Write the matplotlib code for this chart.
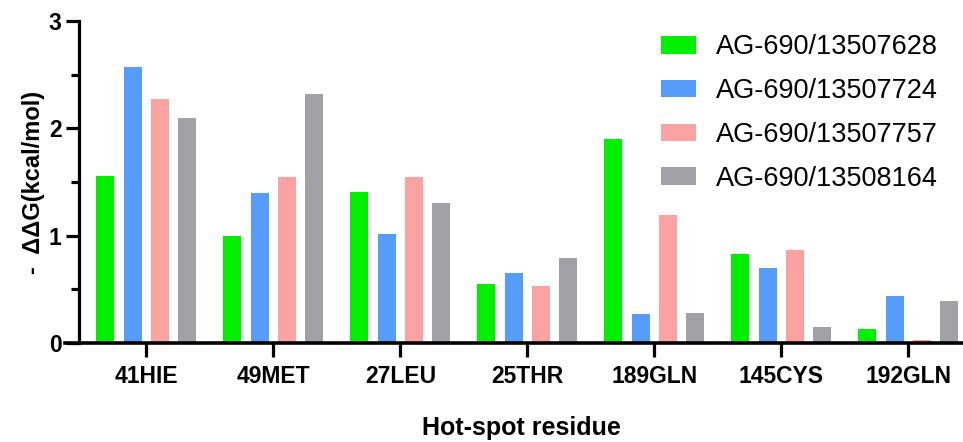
import numpy as np
import matplotlib
matplotlib.use("Agg")
import matplotlib.pyplot as plt

residues = ['41HIE', '49MET', '27LEU', '25THR', '189GLN', '145CYS', '192GLN']
series_names = ['AG-690/13507628', 'AG-690/13507724', 'AG-690/13507757', 'AG-690/13508164']
vals_628 = [1.56, 1.00, 1.41, 0.55, 1.90, 0.83, 0.13]
vals_724 = [2.57, 1.40, 1.02, 0.65, 0.27, 0.70, 0.44]
vals_757 = [2.27, 1.55, 1.55, 0.53, 1.19, 0.87, 0.03]
vals_164 = [2.10, 2.32, 1.30, 0.79, 0.28, 0.15, 0.39]
colors = ['#00F000', '#569DFB', '#FDA2A2', '#A2A1A6']

plt.rcParams['font.family'] = ['Liberation Sans', 'DejaVu Sans']

fig = plt.figure(figsize=(9.63, 4.42), dpi=100)
ax = fig.add_axes([0.082, 0.224, 0.918, 0.7285])

x = np.arange(len(residues))
step = 0.215
width = 0.142
all_vals = [vals_628, vals_724, vals_757, vals_164]
for i, (vals, name, c) in enumerate(zip(all_vals, series_names, colors)):
    ax.bar(x + (i - 1.5) * step, vals, width=width, color=c, label=name, zorder=2)

ax.set_xlim(-0.53, 6.43)
ax.set_ylim(0, 3)
ax.set_yticks([0, 1, 2, 3])
ax.set_yticks([0.5, 1.5, 2.5], minor=True)
ax.set_xticks(x)
ax.set_xticklabels(residues, fontsize=16.5, fontweight='bold')
for lab in ax.get_yticklabels():
    lab.set_fontsize(16.5)
    lab.set_fontweight('bold')

for s in ['top', 'right']:
    ax.spines[s].set_visible(False)
ax.spines['left'].set_linewidth(2.3)
ax.spines['bottom'].set_visible(False)
# x axis line runs a bit past the y axis, like the original
ax.axhline(0, xmin=-0.0155, xmax=1, color='black', lw=2.6, clip_on=False, zorder=3)

ax.tick_params(axis='y', which='major', length=9.5, width=2.3, pad=3)
ax.tick_params(axis='y', which='minor', length=6, width=2.3)
ax.tick_params(axis='x', which='major', length=10, width=2.3, pad=6)

ax.set_ylabel('-  \u0394\u0394G(kcal/mol)', fontsize=17, fontweight='bold', labelpad=3)
ax.set_xlabel('Hot-spot residue', fontsize=18, fontweight='bold', labelpad=20)

ax.legend(loc='upper left', bbox_to_anchor=(0.675, 0.947), bbox_transform=fig.transFigure,
          frameon=False, fontsize=19.5, handlelength=1.3, handleheight=0.63,
          handletextpad=0.72, labelspacing=0.66, borderaxespad=0)

fig.savefig('out.png', dpi=100)
